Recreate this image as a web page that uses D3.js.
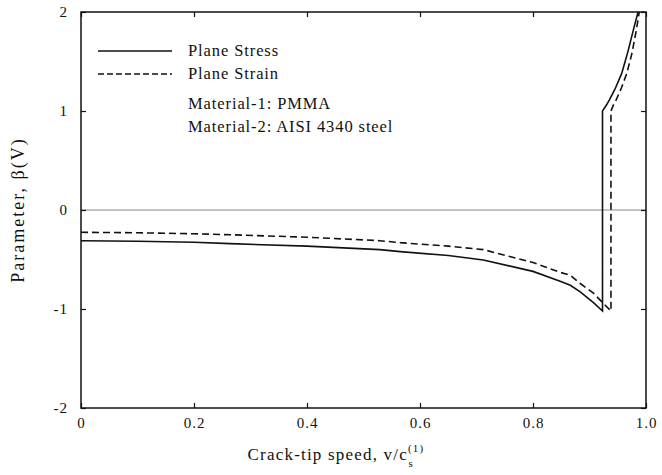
<!DOCTYPE html>
<html><head><meta charset="utf-8">
<script src="https://cdn.jsdelivr.net/npm/d3@7"></script>
<style>body{margin:0;background:#fff;} svg{display:block;} text{font-family:"Liberation Serif","DejaVu Serif",serif;fill:#111;}</style>
</head><body>
<script>
// Data
const xTicks = [0, 0.2, 0.4, 0.6, 0.8, 1.0];
const xTickLabels = ["0", "0.2", "0.4", "0.6", "0.8", "1.0"];
const yTicks = [-2, -1, 0, 1, 2];
const yTickLabels = ["-2", "-1", "0", "1", "2"];
// Plane stress (solid): lower branch then upper branch after the jump
const stressV = [0, 0.1, 0.2, 0.264, 0.4, 0.529, 0.565, 0.65, 0.712, 0.8, 0.848, 0.866, 0.883, 0.907, 0.923, 0.923, 0.930, 0.935, 0.945, 0.957, 0.968, 0.979, 0.986];
const stressB = [-0.31, -0.315, -0.325, -0.34, -0.365, -0.40, -0.42, -0.46, -0.505, -0.62, -0.72, -0.76, -0.825, -0.935, -1.02, 1.0, 1.06, 1.11, 1.22, 1.38, 1.60, 1.85, 2.0];
// Plane strain (dashed)
const strainV = [0, 0.1, 0.2, 0.264, 0.4, 0.529, 0.565, 0.65, 0.712, 0.8, 0.848, 0.866, 0.883, 0.907, 0.924, 0.938, 0.938, 0.943, 0.947, 0.957, 0.966, 0.975, 0.983, 0.988];
const strainB = [-0.225, -0.23, -0.24, -0.25, -0.275, -0.31, -0.33, -0.365, -0.40, -0.53, -0.63, -0.66, -0.74, -0.84, -0.94, -1.02, 1.0, 1.07, 1.11, 1.24, 1.38, 1.58, 1.82, 2.0];
const seriesNames = ["Plane Stress", "Plane Strain"];
const notes = ["Material-1: PMMA", "Material-2: AISI 4340 steel"];

const W = 662, H = 475;
const m = {left: 81, right: 16, top: 12, bottom: 67};
const svg = d3.select("body").append("svg").attr("width", W).attr("height", H);
const x = d3.scaleLinear().domain([0, 1]).range([m.left, W - m.right]);
const y = d3.scaleLinear().domain([-2, 2]).range([H - m.bottom, m.top]);

// zero line
svg.append("line").attr("x1", x(0)).attr("x2", x(1)).attr("y1", y(0)).attr("y2", y(0))
  .attr("stroke", "#888").attr("stroke-width", 1);

// axes with inward ticks
const ax = (g, axis) => { g.call(axis); g.select(".domain").remove(); g.selectAll(".tick line").attr("stroke", "#111").attr("stroke-width", 1.2); };
svg.append("g").attr("transform", `translate(0,${y(-2)})`)
  .call(g => ax(g, d3.axisBottom(x).tickValues(xTicks).tickSizeInner(-5).tickSizeOuter(0).tickFormat((d, i) => xTickLabels[i]).tickPadding(9)))
  .selectAll("text").attr("font-size", 15).attr("letter-spacing", 1);
svg.append("g").attr("transform", `translate(0,${y(2)})`)
  .call(g => ax(g, d3.axisTop(x).tickValues(xTicks).tickSizeInner(-5).tickSizeOuter(0).tickFormat("")));
svg.append("g").attr("transform", `translate(${x(0)},0)`)
  .call(g => ax(g, d3.axisLeft(y).tickValues(yTicks).tickSizeInner(-5).tickSizeOuter(0).tickFormat((d, i) => yTickLabels[i]).tickPadding(13)))
  .selectAll("text").attr("font-size", 15).attr("letter-spacing", 1);
svg.append("g").attr("transform", `translate(${x(1)},0)`)
  .call(g => ax(g, d3.axisRight(y).tickValues(yTicks).tickSizeInner(-5).tickSizeOuter(0).tickFormat("")));
svg.selectAll(".tick text").attr("fill", "#111").attr("font-family", "Liberation Serif");

// frame
svg.append("rect").attr("x", x(0)).attr("y", y(2)).attr("width", x(1) - x(0)).attr("height", y(-2) - y(2))
  .attr("fill", "none").attr("stroke", "#111").attr("stroke-width", 1.5);

const line = d3.line().x(d => x(d[0])).y(d => y(d[1]));
const stress = stressV.map((v, i) => [v, stressB[i]]);
const strain = strainV.map((v, i) => [v, strainB[i]]);
svg.append("clipPath").attr("id", "c").append("rect")
  .attr("x", x(0)).attr("y", y(2)).attr("width", x(1) - x(0)).attr("height", y(-2) - y(2));
svg.append("path").attr("d", line(stress)).attr("fill", "none").attr("stroke", "#111").attr("stroke-width", 1.6).attr("clip-path", "url(#c)");
svg.append("path").attr("d", line(strain)).attr("fill", "none").attr("stroke", "#111").attr("stroke-width", 1.6)
  .attr("stroke-dasharray", "7,4").attr("clip-path", "url(#c)");

// legend
const lg = svg.append("g");
[0, 1].forEach(i => {
  const yy = 51 + i * 23;
  lg.append("line").attr("x1", 98).attr("x2", 172).attr("y1", yy).attr("y2", yy)
    .attr("stroke", "#111").attr("stroke-width", 1.5).attr("stroke-dasharray", i ? "6,3" : null);
  lg.append("text").attr("x", 188).attr("y", yy + 5).attr("font-size", 16.5).attr("letter-spacing", 0.9).text(seriesNames[i]);
});
notes.forEach((t, i) => {
  lg.append("text").attr("x", 188).attr("y", 109 + i * 23).attr("font-size", 16.5).attr("letter-spacing", 0.9).text(t);
});

// axis titles
const xt = svg.append("text").attr("x", 336).attr("y", 460).attr("text-anchor", "middle").attr("font-size", 17).attr("letter-spacing", 1.2);
xt.append("tspan").text("Crack-tip speed, v/c");
xt.append("tspan").attr("font-size", 11).attr("dy", -8).text("(1)");
xt.append("tspan").attr("font-size", 11).attr("dx", -16).attr("dy", 15).text("s");
svg.append("text").attr("transform", `translate(24,${y(0)}) rotate(-90)`).attr("text-anchor", "middle")
  .attr("font-size", 18).attr("letter-spacing", 2).text("Parameter, β(V)");
</script>
</body></html>
